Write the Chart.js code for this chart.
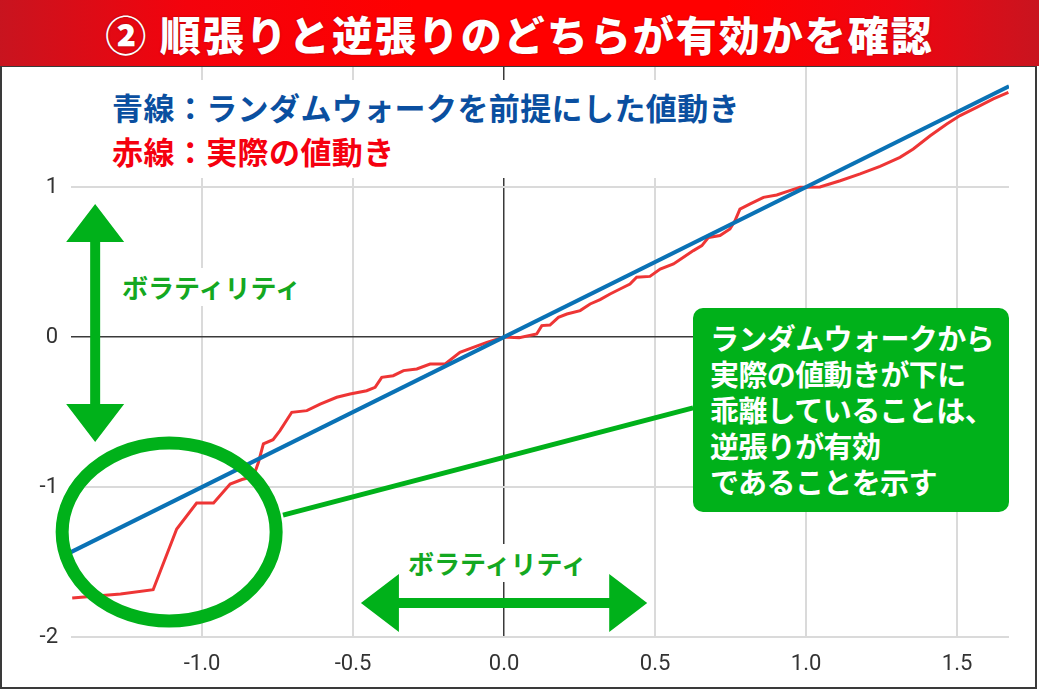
<!DOCTYPE html>
<html lang="ja">
<head>
<meta charset="utf-8">
<title>順張りと逆張りのどちらが有効かを確認</title>
<script src="https://cdn.jsdelivr.net/npm/chart.js@4.4.1/dist/chart.umd.min.js"></script>
<style>
  body { margin: 0; background: #fff; }
  #wrap { position: relative; width: 1039px; height: 691px; overflow: hidden; font-family: "Noto Sans CJK JP", sans-serif; }
  #panel { position: absolute; left: 0; top: 65px; width: 1033px; height: 620px; border: 2px solid #3a3a3a; background: #fff; }
  #chart { position: absolute; left: 0; top: 0; }
  #banner {
    position: absolute; left: 0; top: 0; width: 1039px; height: 66px;
    background: linear-gradient(90deg, #c8141f 0%, #f4020c 18%, #ff0000 40%, #ff0000 70%, #ef0510 86%, #c9141f 100%);
    color: #fff; font-weight: 900; font-size: 41px; line-height: 66px; text-align: center; letter-spacing: 2px;
    text-shadow: 0 0 2px rgba(110, 0, 0, 0.6);
  }
  .box { position: absolute; background: #fff; font-weight: 700; white-space: nowrap; }
  #legendBox { left: 104px; top: 80px; padding: 5px 10px 5px 8px; font-size: 31px; line-height: 44px; letter-spacing: 0.4px; }
  #legendBox .blue { color: #0a4fa0; }
  #legendBox .red { color: #f5000f; }
  .vol { color: #14a821; font-size: 26px; line-height: 38px; padding: 0 6px; }
  #volV { left: 116px; top: 268px; }
  #volH { left: 402px; top: 544px; }
  #note {
    position: absolute; left: 693px; top: 308px; width: 316px; height: 204px; box-sizing: border-box;
    background: #00b11a; border-radius: 10px; color: #fff; font-weight: 700;
    font-size: 29px; line-height: 36px; letter-spacing: -0.6px; padding: 11px 0 0 17px; white-space: nowrap;
  }
</style>
</head>
<body>
<div id="wrap">
  <div id="panel"></div>
  <canvas id="chart" width="1039" height="691"></canvas>
  <div id="legendBox" class="box"><div class="blue">青線：ランダムウォークを前提にした値動き</div><div class="red">赤線：実際の値動き</div></div>
  <div id="volV" class="box vol">ボラティリティ</div>
  <div id="volH" class="box vol">ボラティリティ</div>
  <div id="note">ランダムウォークから<br>実際の値動きが下に<br>乖離していることは、<br>逆張りが有効<br>であることを示す</div>
  <div id="banner">② 順張りと逆張りのどちらが有効かを確認</div>
</div>
<script>
// blue: random-walk reference line (y = x)
const blueX = [-1.434, 1.672];
const blueY = [-1.434, 1.672];

// red: actual price movement
const redX = [-1.43, -1.27, -1.162, -1.084, -1.018, -0.962, -0.907, -0.868, -0.83, -0.813,
  -0.797, -0.765, -0.742, -0.703, -0.653, -0.609, -0.554, -0.51, -0.455, -0.427,
  -0.405, -0.367, -0.333, -0.289, -0.245, -0.195, -0.146, -0.102, -0.057, 0,
  0.05, 0.108, 0.125, 0.152, 0.18, 0.208, 0.252, 0.285, 0.318, 0.351,
  0.384, 0.417, 0.439, 0.483, 0.517, 0.561, 0.594, 0.627, 0.655, 0.677,
  0.715, 0.748, 0.765, 0.781, 0.815, 0.859, 0.903, 0.936, 0.98, 1.046,
  1.113, 1.179, 1.245, 1.311, 1.355, 1.411, 1.466, 1.51, 1.565, 1.62, 1.67];
const redY = [-1.74, -1.713, -1.685, -1.28, -1.107, -1.107, -0.98, -0.95, -0.93, -0.833,
  -0.713, -0.685, -0.624, -0.502, -0.491, -0.447, -0.402, -0.38, -0.358, -0.336,
  -0.269, -0.258, -0.224, -0.213, -0.18, -0.18, -0.102, -0.069, -0.036, 0,
  -0.005, 0.02, 0.076, 0.08, 0.131, 0.153, 0.176, 0.22, 0.249, 0.287,
  0.32, 0.353, 0.398, 0.404, 0.453, 0.487, 0.531, 0.576, 0.609, 0.664,
  0.676, 0.72, 0.776, 0.853, 0.887, 0.931, 0.947, 0.969, 0.998, 1.0,
  1.042, 1.087, 1.138, 1.198, 1.253, 1.342, 1.42, 1.476, 1.531, 1.587, 1.631];

const xMin = -1.434, xMax = 1.672;
const yMin = -2, yMax = 1.8;

// annotation anchors, in data units
const volArrowV = { x: -1.354, y1: 0.887, y2: -0.70 };
const volArrowH = { y: -1.773, x1: -0.474, x2: 0.474 };
const ring = { x: -1.109, y: -1.30 };
const leader = { x1: -0.732, y1: -1.187, x2: 0.626, y2: -0.473 };

const GREEN = '#00b11a';

function toPoints(xs, ys) {
  return xs.map((v, i) => ({ x: v, y: ys[i] }));
}

function doubleArrow(ctx, x1, y1, x2, y2, shaft, headLen, headHalf) {
  const len = Math.hypot(x2 - x1, y2 - y1);
  const ux = (x2 - x1) / len, uy = (y2 - y1) / len;
  const nx = -uy, ny = ux;
  const s = shaft / 2;
  const pts = [
    [x1, y1],
    [x1 + ux * headLen + nx * headHalf, y1 + uy * headLen + ny * headHalf],
    [x1 + ux * headLen + nx * s, y1 + uy * headLen + ny * s],
    [x2 - ux * headLen + nx * s, y2 - uy * headLen + ny * s],
    [x2 - ux * headLen + nx * headHalf, y2 - uy * headLen + ny * headHalf],
    [x2, y2],
    [x2 - ux * headLen - nx * headHalf, y2 - uy * headLen - ny * headHalf],
    [x2 - ux * headLen - nx * s, y2 - uy * headLen - ny * s],
    [x1 + ux * headLen - nx * s, y1 + uy * headLen - ny * s],
    [x1 + ux * headLen - nx * headHalf, y1 + uy * headLen - ny * headHalf]
  ];
  ctx.beginPath();
  ctx.moveTo(pts[0][0], pts[0][1]);
  for (let i = 1; i < pts.length; i++) ctx.lineTo(pts[i][0], pts[i][1]);
  ctx.closePath();
  ctx.fill();
}

const annotate = {
  id: 'annotate',
  afterDatasetsDraw(chart) {
    const { ctx, scales: { x, y } } = chart;
    ctx.save();
    ctx.fillStyle = GREEN;
    ctx.strokeStyle = GREEN;

    // leader line from ring to note
    ctx.lineWidth = 5;
    ctx.beginPath();
    ctx.moveTo(x.getPixelForValue(leader.x1), y.getPixelForValue(leader.y1));
    ctx.lineTo(x.getPixelForValue(leader.x2), y.getPixelForValue(leader.y2));
    ctx.stroke();

    // ring around the lower tail
    ctx.lineWidth = 13;
    ctx.beginPath();
    ctx.ellipse(x.getPixelForValue(ring.x), y.getPixelForValue(ring.y), 107, 89, 0, 0, Math.PI * 2);
    ctx.stroke();

    // volatility arrows
    const vx = x.getPixelForValue(volArrowV.x);
    doubleArrow(ctx, vx, y.getPixelForValue(volArrowV.y1), vx, y.getPixelForValue(volArrowV.y2), 10, 38, 29);
    const hy = y.getPixelForValue(volArrowH.y);
    doubleArrow(ctx, x.getPixelForValue(volArrowH.x1), hy, x.getPixelForValue(volArrowH.x2), hy, 10, 38, 29);
    ctx.restore();
  }
};

const tickFont = { family: 'Roboto, "Liberation Sans", sans-serif', size: 22 };

new Chart(document.getElementById('chart'), {
  type: 'line',
  data: {
    datasets: [
      {
        label: 'ランダムウォーク',
        data: toPoints(blueX, blueY),
        borderColor: '#0a72b5',
        borderWidth: 4,
        pointRadius: 0,
        tension: 0
      },
      {
        label: '実際の値動き',
        data: toPoints(redX, redY),
        borderColor: '#ee3535',
        borderWidth: 3,
        pointRadius: 0,
        tension: 0
      }
    ]
  },
  options: {
    responsive: false,
    animation: false,
    layout: { padding: { top: 67, right: 30, left: 0, bottom: 0 } },
    plugins: { legend: { display: false }, tooltip: { enabled: false } },
    scales: {
      x: {
        type: 'linear',
        min: xMin,
        max: xMax,
        afterFit: s => { s.height = 54; },
        border: { display: false },
        grid: {
          drawTicks: false,
          color: c => c.tick && c.tick.value === 0 ? '#3a3a3a' : '#dadada',
          lineWidth: c => c.tick && c.tick.value === 0 ? 1.5 : 2
        },
        ticks: {
          stepSize: 0.5,
          includeBounds: false,
          padding: 14,
          color: '#333',
          font: tickFont,
          maxRotation: 0,
          callback: v => v.toFixed(1)
        }
      },
      y: {
        min: yMin,
        max: yMax,
        afterFit: s => { s.width = 71; },
        border: { display: false },
        grid: {
          drawTicks: false,
          color: c => c.tick && c.tick.value === 0 ? '#3a3a3a' : '#dadada',
          lineWidth: c => c.tick && c.tick.value === 0 ? 1.5 : 2
        },
        ticks: {
          stepSize: 1,
          includeBounds: false,
          padding: 13,
          color: '#333',
          font: tickFont,
          callback: v => String(v)
        }
      }
    }
  },
  plugins: [annotate]
});
</script>
</body>
</html>
